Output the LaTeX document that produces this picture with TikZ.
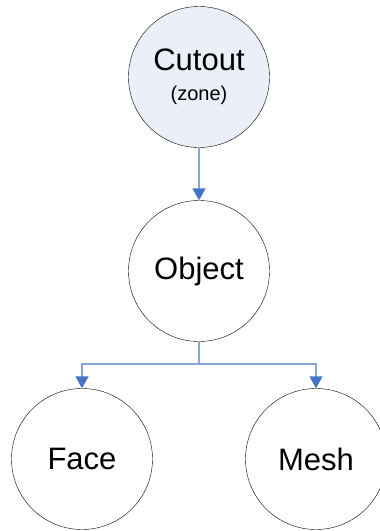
\documentclass[tikz,border=0pt]{standalone}
\usepackage{fontspec}
\setmainfont{Liberation Sans}
\usetikzlibrary{arrows.meta}

\definecolor{zonefill}{HTML}{EAEFF8}
\definecolor{linkline}{HTML}{86A5DB}
\definecolor{linktip}{HTML}{4472C4}

\begin{document}
\begin{tikzpicture}[x=1pt,y=-1pt]

      \useasboundingbox (0,0) rectangle (380,531);

      \begin{scope}[every node/.style={circle,draw,thin,minimum size=141pt,inner sep=0pt,
          align=center,font=\fontsize{31}{34}\selectfont}]
        \node[fill=zonefill] (cutout) at (199,77) {Cutout\\[-4pt]{\fontsize{20}{24}\selectfont (zone)}};
        \node (object) at (199,271) {Object};
        \node (face) at (82,459) {Face};
        \node (mesh) at (316,459) {Mesh};
      \end{scope}

      \coordinate (fork) at (199,364);

      \begin{scope}[every path/.style={draw=linkline,line width=1.4pt},
          >={Triangle[width=13pt,length=12pt,color=linktip]}]
        \path[->] (cutout) edge (object);
        \path (object) edge (fork);
        \path[->] (fork) -| (face.north);
        \path[->] (fork) -| (mesh.north);
      \end{scope}

    \end{tikzpicture}
\end{document}
